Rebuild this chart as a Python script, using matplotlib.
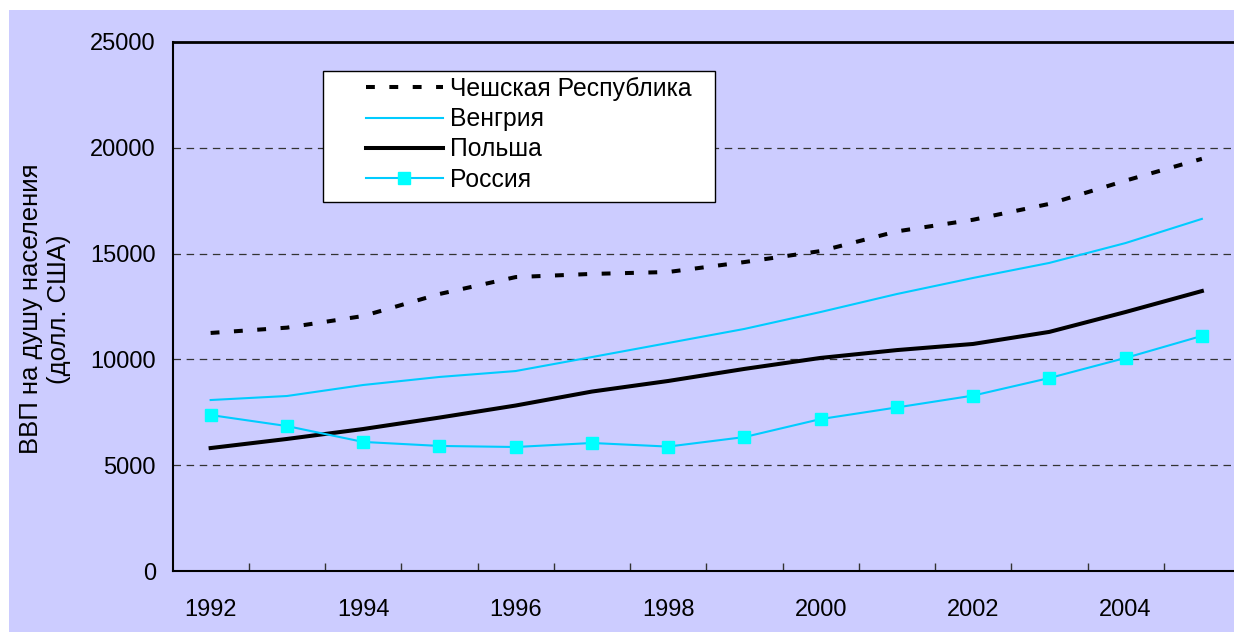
import numpy as np
import matplotlib.pyplot as plt
from matplotlib.patches import Rectangle

plt.rcParams['font.family'] = ['Liberation Sans', 'DejaVu Sans']

#==============================================================================
# data
#==============================================================================
years   = [1992, 1993, 1994, 1995, 1996, 1997, 1998,
           1999, 2000, 2001, 2002, 2003, 2004, 2005]
czech   = [11250, 11500, 12050, 13090, 13890, 14040, 14130,
           14600, 15120, 16050, 16600, 17350, 18450, 19480]
hungary = [8080, 8270, 8790, 9170, 9450, 10110, 10775,
           11440, 12240, 13090, 13850, 14560, 15500, 16640]
poland  = [5810, 6240, 6710, 7250, 7820, 8480, 8980,
           9550, 10070, 10440, 10730, 11300, 12240, 13230]
russia  = [7370, 6850, 6100, 5910, 5860, 6050, 5880,
           6330, 7180, 7730, 8290, 9120, 10070, 11110]
names   = ['Чешская Республика', 'Венгрия', 'Польша', 'Россия']
yticks  = [0, 5000, 10000, 15000, 20000, 25000]

#==============================================================================
# colours / styles
#==============================================================================
bg      = '#CCCCFF'
cyan    = '#00CCFF'
cyan_mk = '#00FFFF'
fs      = 17

W, H = 1234, 632
fig = plt.figure(figsize=(W/100, H/100), dpi=100, facecolor='white')

# lavender chart area (white strip at top and left)
fig.patches.append(Rectangle((9/W, 0), 1-9/W, 1-10/H, transform=fig.transFigure,
                             facecolor=bg, edgecolor='none', zorder=-10))

ax_l, ax_r = 172.5, 172.5 + 14*76.25
ax_t, ax_b = 42, 571
ax = fig.add_axes([ax_l/W, 1-ax_b/H, (ax_r-ax_l)/W, (ax_b-ax_t)/H])
ax.set_facecolor(bg)

x = np.arange(len(years))

ax.plot(x, czech, color='k', lw=2.9, linestyle=(0, (2.2, 3.6)),
        dash_capstyle='butt', label=names[0], zorder=4)
ax.plot(x, hungary, color=cyan, lw=1.5, label=names[1], zorder=3)
ax.plot(x, poland, color='k', lw=2.9, label=names[2], zorder=3)
ax.plot(x, russia, color=cyan, lw=1.5, marker='s', markersize=8.5,
        markerfacecolor=cyan_mk, markeredgecolor=cyan_mk, label=names[3], zorder=3)

ax.set_xlim(-0.5, len(years)-0.5)
ax.set_ylim(0, 25000)

ax.set_yticks(yticks)
ax.set_yticklabels([str(v) for v in yticks], fontsize=fs)
ax.tick_params(axis='y', length=0, pad=12)

ax.set_xticks(x[::2])
ax.set_xticklabels([str(y) for y in years[::2]], fontsize=fs)
ax.set_xticks(np.arange(0.5, len(years)-0.5, 1.0), minor=True)
ax.tick_params(axis='x', which='major', length=0, pad=20)
ax.tick_params(axis='x', which='minor', direction='in', length=6, width=1.0,
               color='#333333')

for v in yticks[1:-1]:
    ax.axhline(v, color='#333333', lw=0.9, linestyle=(0, (6, 4.5)), zorder=1)

for side in ['left', 'bottom', 'top']:
    ax.spines[side].set_linewidth(1.5)
    ax.spines[side].set_color('k')
ax.spines['top'].set_linewidth(2.0)
ax.spines['right'].set_visible(False)

fig.text(45/W, 1-309/H, 'ВВП на душу населения\n(долл. США)', rotation=90,
         ha='center', va='center', multialignment='center', fontsize=18.5,
         linespacing=1.2)

# legend box
ax.add_patch(Rectangle((323/W, 1-202/H), (715-323)/W, (202-71)/H,
                       transform=fig.transFigure, facecolor='white',
                       edgecolor='k', lw=1.0, zorder=5, clip_on=False))
leg = ax.legend(loc='upper left', bbox_to_anchor=(366/W, 1-77/H),
                bbox_transform=fig.transFigure, frameon=False, fontsize=17.8,
                handlelength=3.1, handletextpad=0.3, labelspacing=0.25,
                borderpad=0, borderaxespad=0, numpoints=1)
leg.set_zorder(6)

fig.savefig('out.png', dpi=100, facecolor='white')
